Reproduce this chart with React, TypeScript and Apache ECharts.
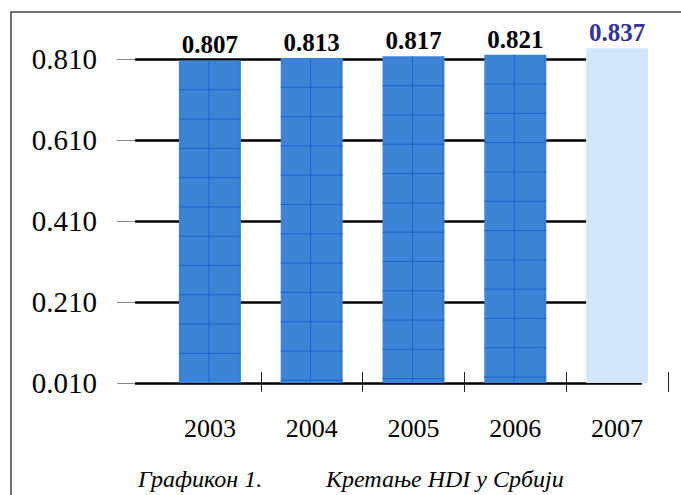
import React, { useEffect, useRef } from "react";
import * as echarts from "echarts";

const years = ["2003", "2004", "2005", "2006", "2007"];
const hdiValues = [0.807, 0.813, 0.817, 0.821, 0.837];
const yTickLabels = ["0.010", "0.210", "0.410", "0.610", "0.810"];
const axisMin = 0.01;
const captionLeft = "Графикон 1.";
const captionRight = "Кретање HDI у Србији";

const SERIF = "'Liberation Serif', 'DejaVu Serif', serif";
const BAR_BLUE = "#3d84d6";
const LINE_BLUE = "#1767cc";
const LIGHT = "#d3e7fc";

export default function App() {
  const ref = useRef<HTMLDivElement>(null);
  useEffect(() => {
    if (!ref.current) return;
    const chart = echarts.init(ref.current, null, { renderer: "svg" });
    const barWidth = 62;
    const option: any = {
      animation: false,
      backgroundColor: "#ffffff",
      grid: [
        { left: 159, right: 13, top: 43, bottom: 112 },
        { left: 135, right: 39, top: 59, bottom: 112 },
      ],
      xAxis: [
        {
          type: "category",
          gridIndex: 0,
          position: "bottom",
          data: years,
          axisLine: { show: false },
          axisTick: {
            show: true,
            length: 9,
            interval: (i: number) => i !== 0,
            lineStyle: { color: "#222", width: 1 },
          },
          axisLabel: {
            fontFamily: SERIF,
            fontSize: 26,
            color: "#000",
            margin: 32,
          },
        },
        {
          type: "category",
          gridIndex: 0,
          position: "bottom",
          data: years,
          axisLine: { show: false },
          axisTick: {
            show: true,
            inside: true,
            length: 11,
            interval: (i: number) => i !== 0,
            lineStyle: { color: "#222", width: 1 },
          },
          axisLabel: { show: false },
        },
        {
          type: "category",
          gridIndex: 1,
          data: years,
          show: false,
        },
      ],
      yAxis: [
        {
          type: "value",
          gridIndex: 0,
          min: axisMin,
          max: 0.85,
          show: false,
          splitLine: { show: false },
        },
        {
          type: "category",
          gridIndex: 1,
          data: yTickLabels,
          boundaryGap: false,
          axisLine: { show: false },
          axisTick: {
            show: true,
            length: 18,
            lineStyle: { color: "#888", width: 1 },
          },
          axisLabel: {
            fontFamily: SERIF,
            fontSize: 29,
            color: "#000",
            margin: 38,
            padding: [6, 0, 0, 0],
          },
          splitLine: {
            show: true,
            lineStyle: { color: "#000", width: 2.5 },
          },
        },
      ],
      series: [
        {
          type: "bar",
          xAxisIndex: 0,
          yAxisIndex: 0,
          barWidth,
          z: 3,
          data: hdiValues.map((v, i) => ({
            value: v,
            itemStyle: { color: i === hdiValues.length - 1 ? LIGHT : BAR_BLUE },
            label: {
              color: i === hdiValues.length - 1 ? "#333399" : "#000",
            },
          })),
          label: {
            show: true,
            position: "top",
            distance: 3,
            fontFamily: SERIF,
            fontWeight: "bold",
            fontSize: 25,
            formatter: (p: any) => p.value.toFixed(3),
          },
        },
        {
          type: "custom",
          xAxisIndex: 0,
          yAxisIndex: 0,
          z: 4,
          data: hdiValues.map((v, i) => [i, v]),
          renderItem: (params: any, api: any) => {
            const idx = api.value(0);
            if (idx === hdiValues.length - 1) return { type: "group", children: [] };
            const top = api.coord([idx, api.value(1)]);
            const bottom = api.coord([idx, axisMin]);
            const cx = top[0];
            const x0 = cx - barWidth / 2;
            const x1 = cx + barWidth / 2;
            const children: any[] = [
              {
                type: "line",
                shape: { x1: cx - 1, y1: top[1], x2: cx - 1, y2: bottom[1] },
                style: { stroke: LINE_BLUE, lineWidth: 1 },
              },
              {
                type: "line",
                shape: { x1: x1 - 2, y1: top[1], x2: x1 - 2, y2: bottom[1] },
                style: { stroke: LINE_BLUE, lineWidth: 0.8, opacity: 0.5 },
              },
            ];
            for (let y = top[1] + 29.3; y < bottom[1] - 1; y += 29.3) {
              children.push({
                type: "line",
                shape: { x1: x0, y1: y, x2: x1, y2: y },
                style: { stroke: LINE_BLUE, lineWidth: 1 },
              });
            }
            return { type: "group", children };
          },
        },
      ],
      graphic: [
        {
          type: "rect",
          shape: { x: 11, y: 12, width: 700, height: 520 },
          style: { fill: "none", stroke: "#444", lineWidth: 1.5 },
          z: 0,
          silent: true,
        },
        {
          type: "text",
          x: 138,
          y: 479,
          style: {
            text: captionLeft,
            fontFamily: SERIF,
            fontStyle: "italic",
            fontSize: 24,
            fill: "#000",
            verticalAlign: "middle",
          },
        },
        {
          type: "text",
          x: 326,
          y: 479,
          style: {
            text: captionRight,
            fontFamily: SERIF,
            fontStyle: "italic",
            fontSize: 24,
            fill: "#000",
            verticalAlign: "middle",
          },
        },
      ],
    };
    chart.setOption(option);
    return () => chart.dispose();
  }, []);
  return (
    <div
      ref={ref}
      style={{ position: "absolute", left: 0, top: 0, width: 681, height: 495 }}
    />
  );
}
